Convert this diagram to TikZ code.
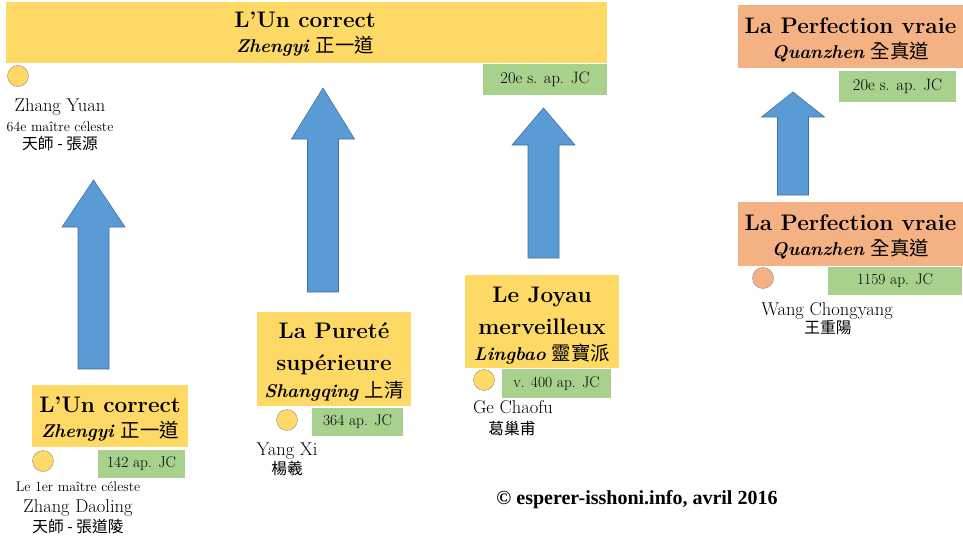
\documentclass[tikz,border=0pt]{standalone}
\usepackage{fontspec}
\usepackage{tikz}
\usetikzlibrary{positioning}
\newfontfamily\cjk[Scale=1.05]{Noto Sans CJK TC}
\newfontfamily\creditfont{Liberation Serif}
\definecolor{schoolyellow}{HTML}{FFD966}
\definecolor{schoolorange}{HTML}{F4B183}
\definecolor{dategreen}{HTML}{A9D18E}
\definecolor{arrowblue}{HTML}{5B9BD5}
\definecolor{arrowedge}{HTML}{41719C}
\newcommand{\school}[2]{\textbf{\textit{#1}}\hspace{6pt}{\cjk #2}}

\begin{document}
\begin{tikzpicture}[x=1pt, y=-1pt,
schoolbox/.style={rectangle, inner sep=0pt, fill=schoolyellow},
perfbox/.style={schoolbox, fill=schoolorange},
datebox/.style={rectangle, inner sep=0pt, fill=dategreen, font=\fontsize{15.5}{17}\selectfont},
founder/.style={circle, draw=black!45, fill=schoolyellow, minimum size=21pt, inner sep=0pt},
linetext/.style={inner sep=0pt, text height=1.05em, text depth=0em},
titletext/.style={linetext, font=\bfseries\fontsize{22.5}{26}\selectfont},
subtext/.style={linetext, font=\fontsize{18.5}{21}\selectfont},
nametext/.style={linetext, font=\fontsize{18.5}{21}\selectfont},
smalltext/.style={linetext, font=\fontsize{14}{16}\selectfont},
hanzi/.style={linetext, font=\cjk\fontsize{15}{17}\selectfont},
blockarrow/.style={fill=arrowblue, draw=arrowedge, line width=0.6pt}
]
    \useasboundingbox (0,0) rectangle (963,559);

    %Boxes
    \node[schoolbox, minimum width=601pt, minimum height=61pt] (zhengyitop) at (306.5,32.5) {};
    \node[schoolbox, minimum width=156pt, minimum height=62pt] (zhengyi) at (110,416) {};
    \node[schoolbox, minimum width=154pt, minimum height=94pt] (shangqing) at (334,359) {};
    \node[schoolbox, minimum width=154pt, minimum height=93pt] (lingbao) at (542,321.5) {};
    \node[perfbox, minimum width=225pt, minimum height=63pt] (quanzhentop) at (850.5,36.5) {};
    \node[perfbox, minimum width=225pt, minimum height=64pt] (quanzhen) at (850.5,234) {};

    %Box texts
    \node[titletext] (zhengyitopt) at (305,22) {L’Un correct};
    \node[subtext] (zhengyitops) at (305,47) {\school{Zhengyi}{正一道}};
    \node[titletext] (zhengyit) at (110,407) {L’Un correct};
    \node[subtext] (zhengyis) at (110,432) {\school{Zhengyi}{正一道}};
    \node[titletext] (shangqingt) at (334,333) {La Pureté};
    \node[titletext] (shangqingu) at (334,365) {supérieure};
    \node[subtext] (shangqings) at (334,392) {\school{Shangqing}{上清}};
    \node[titletext] (lingbaot) at (542,297) {Le Joyau};
    \node[titletext] (lingbaou) at (542,329) {merveilleux};
    \node[subtext] (lingbaos) at (542,355) {\school{Lingbao}{靈寶派}};
    \node[titletext] (quanzhentopt) at (850.5,28) {La Perfection vraie};
    \node[subtext] (quanzhentops) at (850.5,53) {\school{Quanzhen}{全真道}};
    \node[titletext] (quanzhent) at (850.5,225) {La Perfection vraie};
    \node[subtext] (quanzhens) at (850.5,250) {\school{Quanzhen}{全真道}};

    %Dates
    \node[datebox, minimum width=124pt, minimum height=31pt, font=\fontsize{16.5}{18}\selectfont] (zhengyitopd) at (545,79.5) {20e s. ap. JC};
    \node[datebox, minimum width=87pt, minimum height=28pt] (zhengyid) at (141.5,464) {142 ap. JC};
    \node[datebox, minimum width=91pt, minimum height=28pt] (shangqingd) at (357.5,422) {364 ap. JC};
    \node[datebox, minimum width=109pt, minimum height=29pt] (lingbaod) at (556.5,383.5) {v. 400 ap. JC};
    \node[datebox, minimum width=117pt, minimum height=31pt, font=\fontsize{16.5}{18}\selectfont] (quanzhentopd) at (897.5,86.5) {20e s. ap. JC};
    \node[datebox, minimum width=134pt, minimum height=28pt] (quanzhend) at (895,281) {1159 ap. JC};

    %Founders
    \node[founder] (yuan) at (18,76) {};
    \node[nametext] (yuann) at (60,106) {Zhang Yuan};
    \node[smalltext] (yuanr) at (60,126) {64e maître céleste};
    \node[hanzi] (yuanh) at (60,144) {天師 - 張源};

    \node[founder] (daoling) at (43,461) {};
    \node[smalltext] (daolingr) at (78,486) {Le 1er maître céleste};
    \node[nametext] (daolingn) at (78,507) {Zhang Daoling};
    \node[hanzi] (daolingh) at (78,527) {天師 - 張道陵};

    \node[founder] (yangxi) at (287,420) {};
    \node[nametext] (yangxin) at (287,450) {Yang Xi};
    \node[hanzi] (yangxih) at (287,469) {楊羲};

    \node[founder] (chaofu) at (484,380) {};
    \node[nametext] (chaofun) at (513,408) {Ge Chaofu};
    \node[hanzi] (chaofuh) at (512,429) {葛巢甫};

    \node[founder, fill=schoolorange] (chongyang) at (763,278) {};
    \node[nametext] (chongyangn) at (827,310) {Wang Chongyang};
    \node[hanzi] (chongyangh) at (828,328) {王重陽};

    %Arrows
    \foreach \cx/\yb/\yh/\yt in {93.5/369/227/180, 323/292/139/88, 543.5/258/145/108, 793/195/117/92}
        \draw[blockarrow] ({\cx-15.5},\yb) -- ({\cx-15.5},\yh) -- ({\cx-31.5},\yh) -- (\cx,\yt)
            -- ({\cx+31.5},\yh) -- ({\cx+15.5},\yh) -- ({\cx+15.5},\yb) -- cycle;

    %Credit
    \node[font=\creditfont\bfseries\fontsize{20}{22}\selectfont] (credit) at (637,500) {© esperer-isshoni.info, avril 2016};
\end{tikzpicture}
\end{document}
